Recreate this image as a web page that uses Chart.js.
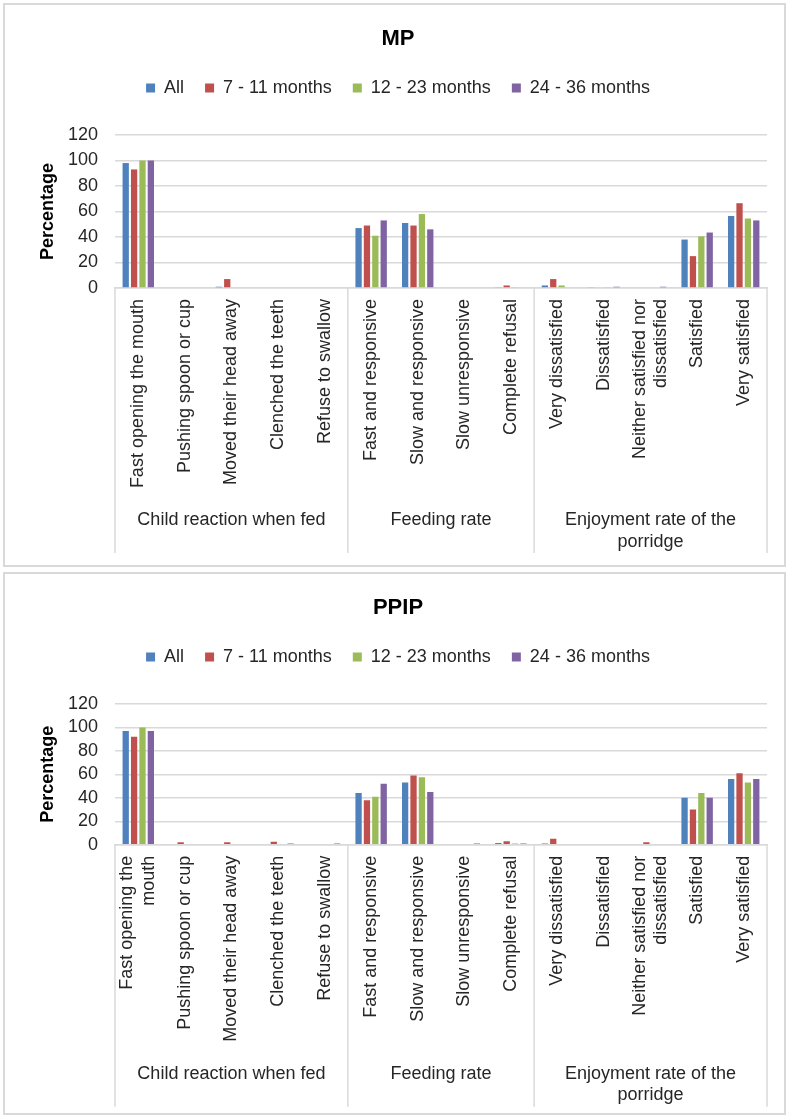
<!DOCTYPE html>
<html>
<head>
<meta charset="utf-8">
<script src="https://cdn.jsdelivr.net/npm/chart.js@4.4.1/dist/chart.umd.min.js"></script>
<style>
  html, body { margin: 0; padding: 0; background: #fff; }
  body { width: 788px; height: 1117px; position: relative; overflow: hidden; }
  .panel { position: absolute; left: 3px; width: 779px; border: 2px solid #d9d9d9; background: #fff; }
  #p1 { top: 3px; height: 560px; }
  #p2 { top: 572px; height: 539px; }
  canvas { display: block; }
</style>
</head>
<body>
<div class="panel" id="p1"><canvas id="mp" width="779" height="560"></canvas></div>
<div class="panel" id="p2"><canvas id="ppip" width="779" height="539"></canvas></div>
<script>
// Categories along the x axis, in three groups
const categories = [
  'Fast opening the mouth', 'Pushing spoon or cup', 'Moved their head away', 'Clenched the teeth', 'Refuse to swallow',
  'Fast and responsive', 'Slow and responsive', 'Slow unresponsive', 'Complete refusal',
  'Very dissatisfied', 'Dissatisfied', 'Neither satisfied nor dissatisfied', 'Satisfied', 'Very satisfied'
];
const groupNames = [['Child reaction when fed'], ['Feeding rate'], ['Enjoyment rate of the', 'porridge']];
const groupSizes = [5, 4, 5];

// Tick labels as printed (line breaks differ between the two panels)
const mpTickLabels = [
  'Fast opening the mouth', 'Pushing spoon or cup', 'Moved their head away', 'Clenched the teeth', 'Refuse to swallow',
  'Fast and responsive', 'Slow and responsive', 'Slow unresponsive', 'Complete refusal',
  'Very dissatisfied', 'Dissatisfied', ['Neither satisfied nor', 'dissatisfied'], 'Satisfied', 'Very satisfied'
];
const ppipTickLabels = [
  ['Fast opening the', 'mouth'], 'Pushing spoon or cup', 'Moved their head away', 'Clenched the teeth', 'Refuse to swallow',
  'Fast and responsive', 'Slow and responsive', 'Slow unresponsive', 'Complete refusal',
  'Very dissatisfied', 'Dissatisfied', ['Neither satisfied nor', 'dissatisfied'], 'Satisfied', 'Very satisfied'
];

const seriesNames = ['All', '7 - 11 months', '12 - 23 months', '24 - 36 months'];
const seriesColors = ['#4F81BD', '#C0504D', '#9BBB59', '#8064A2'];
const yTicks = [0, 20, 40, 60, 80, 100, 120];

// MP (percentages)
const mpAll     = [98, 0, 1, 0, 0, 47, 51, 0, 0.5, 2, 0.5, 0, 38, 56.5];
const mp7to11   = [93, 0, 7, 0, 0, 49, 49, 0, 2, 7, 0, 0, 25, 66.5];
const mp12to23  = [100, 0, 0, 0, 0, 41, 58, 0, 0.5, 2, 0.5, 0, 40.5, 54.5];
const mp24to36  = [100, 0, 0, 0, 0, 53, 46, 0, 0, 0, 1, 1, 43.5, 53];

// PPIP (percentages)
const ppipAll    = [97, 0, 0, 0.5, 0, 44, 53, 0, 1.5, 1, 0.5, 0, 40, 56];
const ppip7to11  = [92, 2, 2, 2.5, 0, 38, 59, 0, 3, 5, 0, 2, 30, 61];
const ppip12to23 = [100, 0, 0, 0, 0, 41, 57.5, 0, 1, 0, 0.5, 0, 44, 53];
const ppip24to36 = [97, 0, 0, 1, 1, 52, 45, 1, 1, 0.5, 0.5, 0, 40, 56];

const FONT = '"Liberation Sans", Arial, Helvetica, sans-serif';
const TEXT = '#262626';
const RULE = '#d9d9d9';
Chart.defaults.font.family = FONT;
Chart.defaults.color = TEXT;

// Group separators and group captions under the category axis;
// also centres multi-line rotated tick labels on their category.
const groupAxis = {
  id: 'groupAxis',
  beforeDraw(chart) {
    const x = chart.scales.x;
    if (!x || typeof x.getLabelItems !== 'function') return;
    for (const item of x.getLabelItems()) {
      if (Array.isArray(item.label) && item.label.length > 1 && !item._centred) {
        const lh = item.font.lineHeight;
        item.options.translation[0] -= (item.label.length - 1) * lh / 2;
        item._centred = true;
      }
    }
  },
  afterDraw(chart, args, opts) {
    const x = chart.scales.x;
    const ctx = chart.ctx;
    ctx.save();
    ctx.strokeStyle = RULE;
    ctx.lineWidth = 1.5;
    let start = 0;
    const edges = [x.getPixelForValue(-0.5)];
    groupSizes.forEach(n => { start += n; edges.push(x.getPixelForValue(start - 0.5)); });
    edges.forEach(px => {
      ctx.beginPath();
      ctx.moveTo(px, x.top);
      ctx.lineTo(px, x.bottom);
      ctx.stroke();
    });
    ctx.fillStyle = TEXT;
    ctx.font = '18px ' + FONT;
    ctx.textAlign = 'center';
    ctx.textBaseline = 'middle';
    groupNames.forEach((lines, g) => {
      const cx = (edges[g] + edges[g + 1]) / 2;
      lines.forEach((t, k) => ctx.fillText(t, cx, x.bottom - opts.captionRise + k * 21.7));
    });
    ctx.restore();
  }
};

function makeChart(id, title, series, tickLabels, lay) {
  return new Chart(document.getElementById(id), {
    type: 'bar',
    data: {
      labels: categories,
      datasets: series.map((values, i) => ({
        label: seriesNames[i],
        data: values,
        backgroundColor: seriesColors[i],
        borderWidth: 0,
        xAxisID: 'x',
        yAxisID: 'y',
        categoryPercentage: 0.72,
        barPercentage: 0.75
      }))
    },
    options: {
      responsive: false,
      animation: false,
      devicePixelRatio: 1,
      layout: { padding: { top: 0, left: 7, right: 0, bottom: lay.bottom } },
      plugins: {
        title: {
          display: true, text: title, color: '#000',
          font: { size: 22, weight: 'bold' },
          padding: { top: lay.titleTop, bottom: lay.titleBottom }
        },
        legend: {
          display: true, position: 'top',
          labels: { boxWidth: 9, boxHeight: 9, padding: 21, color: TEXT, font: { size: 18 } }
        },
        tooltip: { enabled: false },
        groupAxis: { captionRise: 33 }
      },
      scales: {
        x: {
          type: 'category', position: 'bottom', offset: true,
          grid: { display: false, drawTicks: false },
          border: { display: true, color: RULE, width: 1.5 },
          ticks: {
            autoSkip: false, minRotation: 90, maxRotation: 90, padding: 11,
            color: TEXT, font: { size: 18 },
            callback: (v, i) => tickLabels[i]
          },
          afterFit: s => { s.height = lay.axisHeight; }
        },
        gap: {
          type: 'category', position: 'top',
          grid: { display: false }, border: { display: false }, ticks: { display: false },
          afterFit: s => { s.height = lay.gap; }
        },
        edge: {
          type: 'linear', position: 'right',
          grid: { display: false }, border: { display: false }, ticks: { display: false },
          afterFit: s => { s.width = 17; }
        },
        y: {
          min: yTicks[0], max: yTicks[yTicks.length - 1],
          grid: { color: RULE, lineWidth: 1.5, drawTicks: false },
          border: { display: false },
          ticks: { stepSize: yTicks[1] - yTicks[0], autoSkip: false, padding: 17, color: TEXT, font: { size: 18 } },
          title: {
            display: true, text: 'Percentage', color: '#000',
            font: { size: 18, weight: 'bold' }, padding: { top: 25, bottom: 0 }
          },
          afterFit: s => { s.width = 103; }
        }
      }
    },
    plugins: [groupAxis]
  });
}

makeChart('mp', 'MP', [mpAll, mp7to11, mp12to23, mp24to36], mpTickLabels,
  { titleTop: 20.8, titleBottom: 5.8, gap: 28, axisHeight: 265, bottom: 12 });
makeChart('ppip', 'PPIP', [ppipAll, ppip7to11, ppip12to23, ppip24to36], ppipTickLabels,
  { titleTop: 20.8, titleBottom: 5.8, gap: 28, axisHeight: 262, bottom: 6.3 });
</script>
</body>
</html>
